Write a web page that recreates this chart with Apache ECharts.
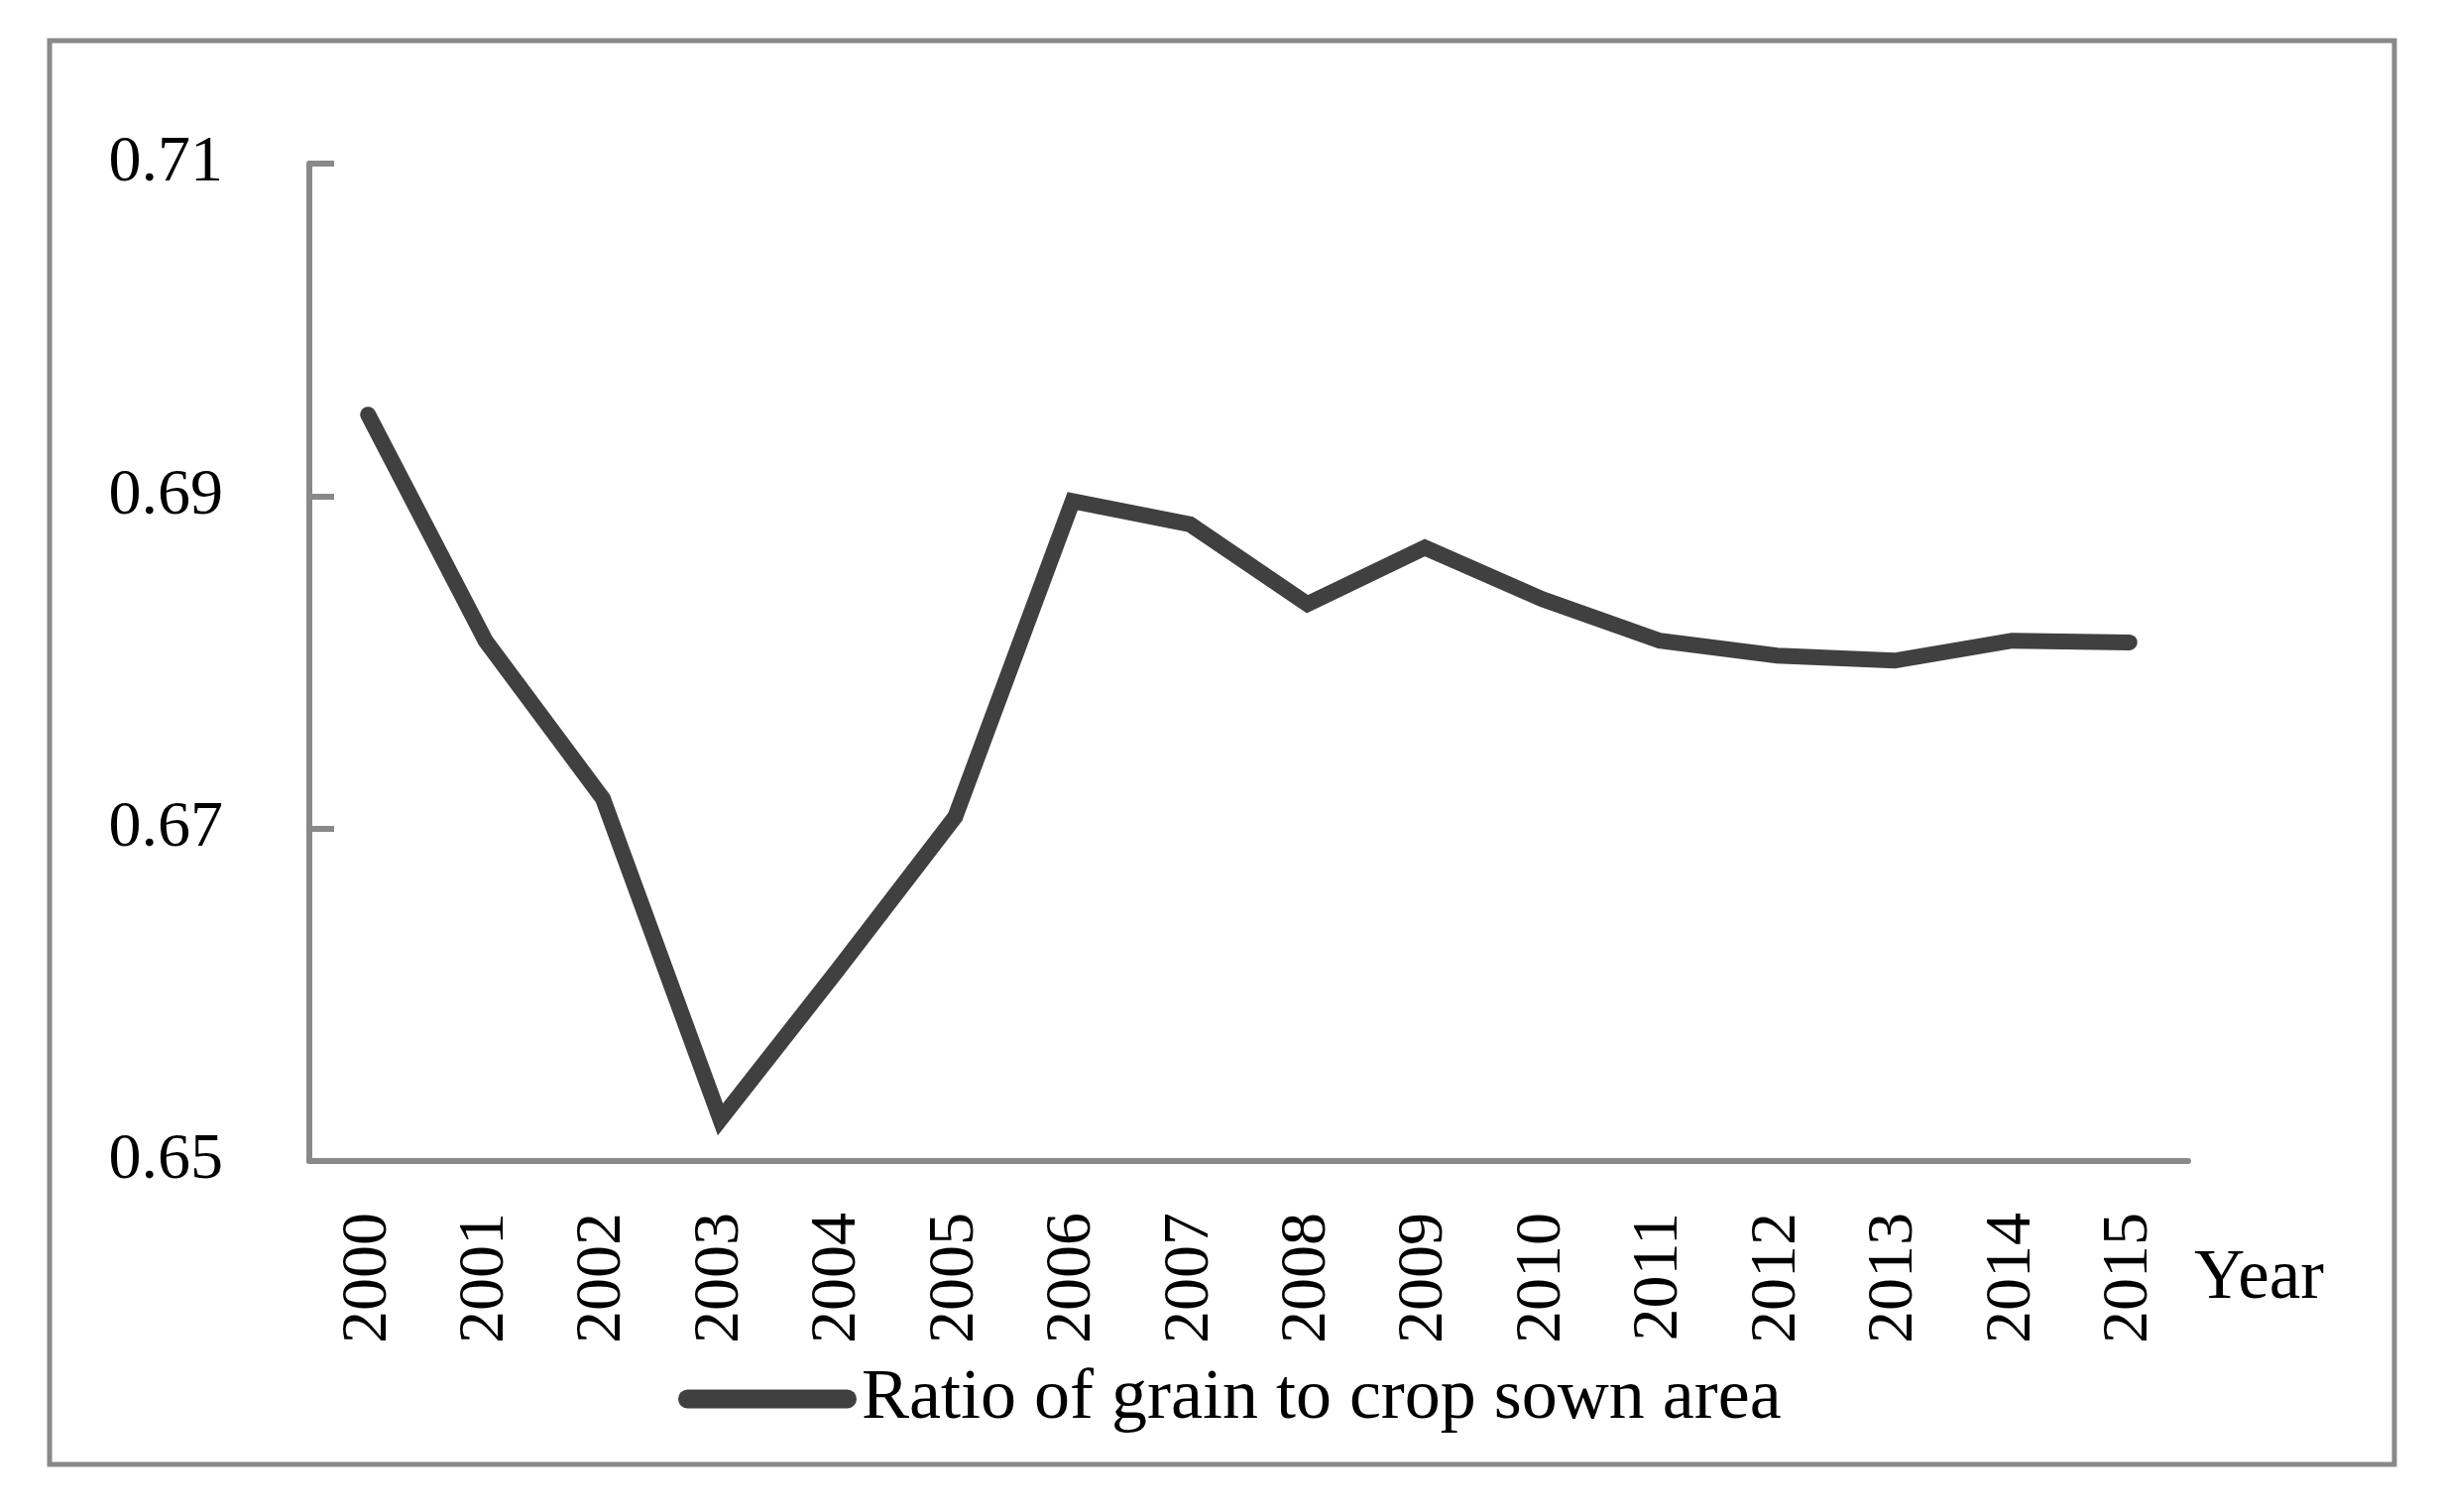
<!DOCTYPE html>
<html>
<head>
<meta charset="utf-8">
<script src="https://cdn.jsdelivr.net/npm/echarts@6/dist/echarts.min.js"></script>
<style>
html,body{margin:0;padding:0;background:#fff;}
#chart{width:2459px;height:1525px;}
</style>
</head>
<body>
<div id="chart"></div>
<script>
const years = ['2000','2001','2002','2003','2004','2005','2006','2007','2008','2009','2010','2011','2012','2013','2014','2015'];
const ratio = [0.6949, 0.6813, 0.6718, 0.6525, 0.6615, 0.6707, 0.6897, 0.6883, 0.6835, 0.6869, 0.6838, 0.6813, 0.6804, 0.6801, 0.6813, 0.6812];
const seriesName = 'Ratio of grain to crop sown area';
const xAxisName = 'Year';
const yMin = 0.65, yMax = 0.71, yStep = 0.02;

const FONT = 'Liberation Serif';
const chart = echarts.init(document.getElementById('chart'), null, {renderer: 'canvas'});
chart.setOption({
  animation: false,
  backgroundColor: '#ffffff',
  graphic: [{
    type: 'rect',
    shape: {x: 50, y: 41, width: 2365, height: 1436},
    style: {fill: 'none', stroke: '#898989', lineWidth: 5},
    silent: true
  }],
  grid: {left: 312, right: 252, top: 165, bottom: 354, containLabel: false},
  legend: {
    left: 679, top: 1370,
    itemWidth: 180, itemHeight: 19,
    icon: 'path://M9.5,0 H170.5 A9.5,9.5 0 0 1 170.5,19 H9.5 A9.5,9.5 0 0 1 9.5,0 Z',
    data: [seriesName],
    textStyle: {fontFamily: FONT, fontSize: 72, color: '#000', lineHeight: 72}
  },
  xAxis: {
    type: 'category',
    data: years,
    boundaryGap: true,
    name: xAxisName,
    nameLocation: 'end',
    nameGap: 6,
    nameTextStyle: {fontFamily: FONT, fontSize: 71, color: '#000', align: 'left', verticalAlign: 'top', padding: [84, 0, 0, 0], lineHeight: 71},
    axisLine: {lineStyle: {color: '#898989', width: 6}},
    axisTick: {show: false},
    axisLabel: {rotate: 90, margin: 52, fontFamily: FONT, fontSize: 66, color: '#000'},
    splitLine: {show: false}
  },
  yAxis: {
    type: 'value',
    min: yMin, max: yMax, interval: yStep,
    axisLine: {show: true, lineStyle: {color: '#898989', width: 6}},
    axisTick: {show: true, inside: true, length: 25, lineStyle: {color: '#898989', width: 6}},
    axisLabel: {margin: 87, fontFamily: FONT, fontSize: 66, color: '#000', formatter: v => v.toFixed(2)},
    splitLine: {show: false}
  },
  series: [{
    name: seriesName,
    type: 'line',
    data: ratio,
    symbol: 'none',
    lineStyle: {color: '#404040', width: 16, cap: 'round', join: 'miter'},
    itemStyle: {color: '#404040'}
  }]
});
</script>
</body>
</html>
